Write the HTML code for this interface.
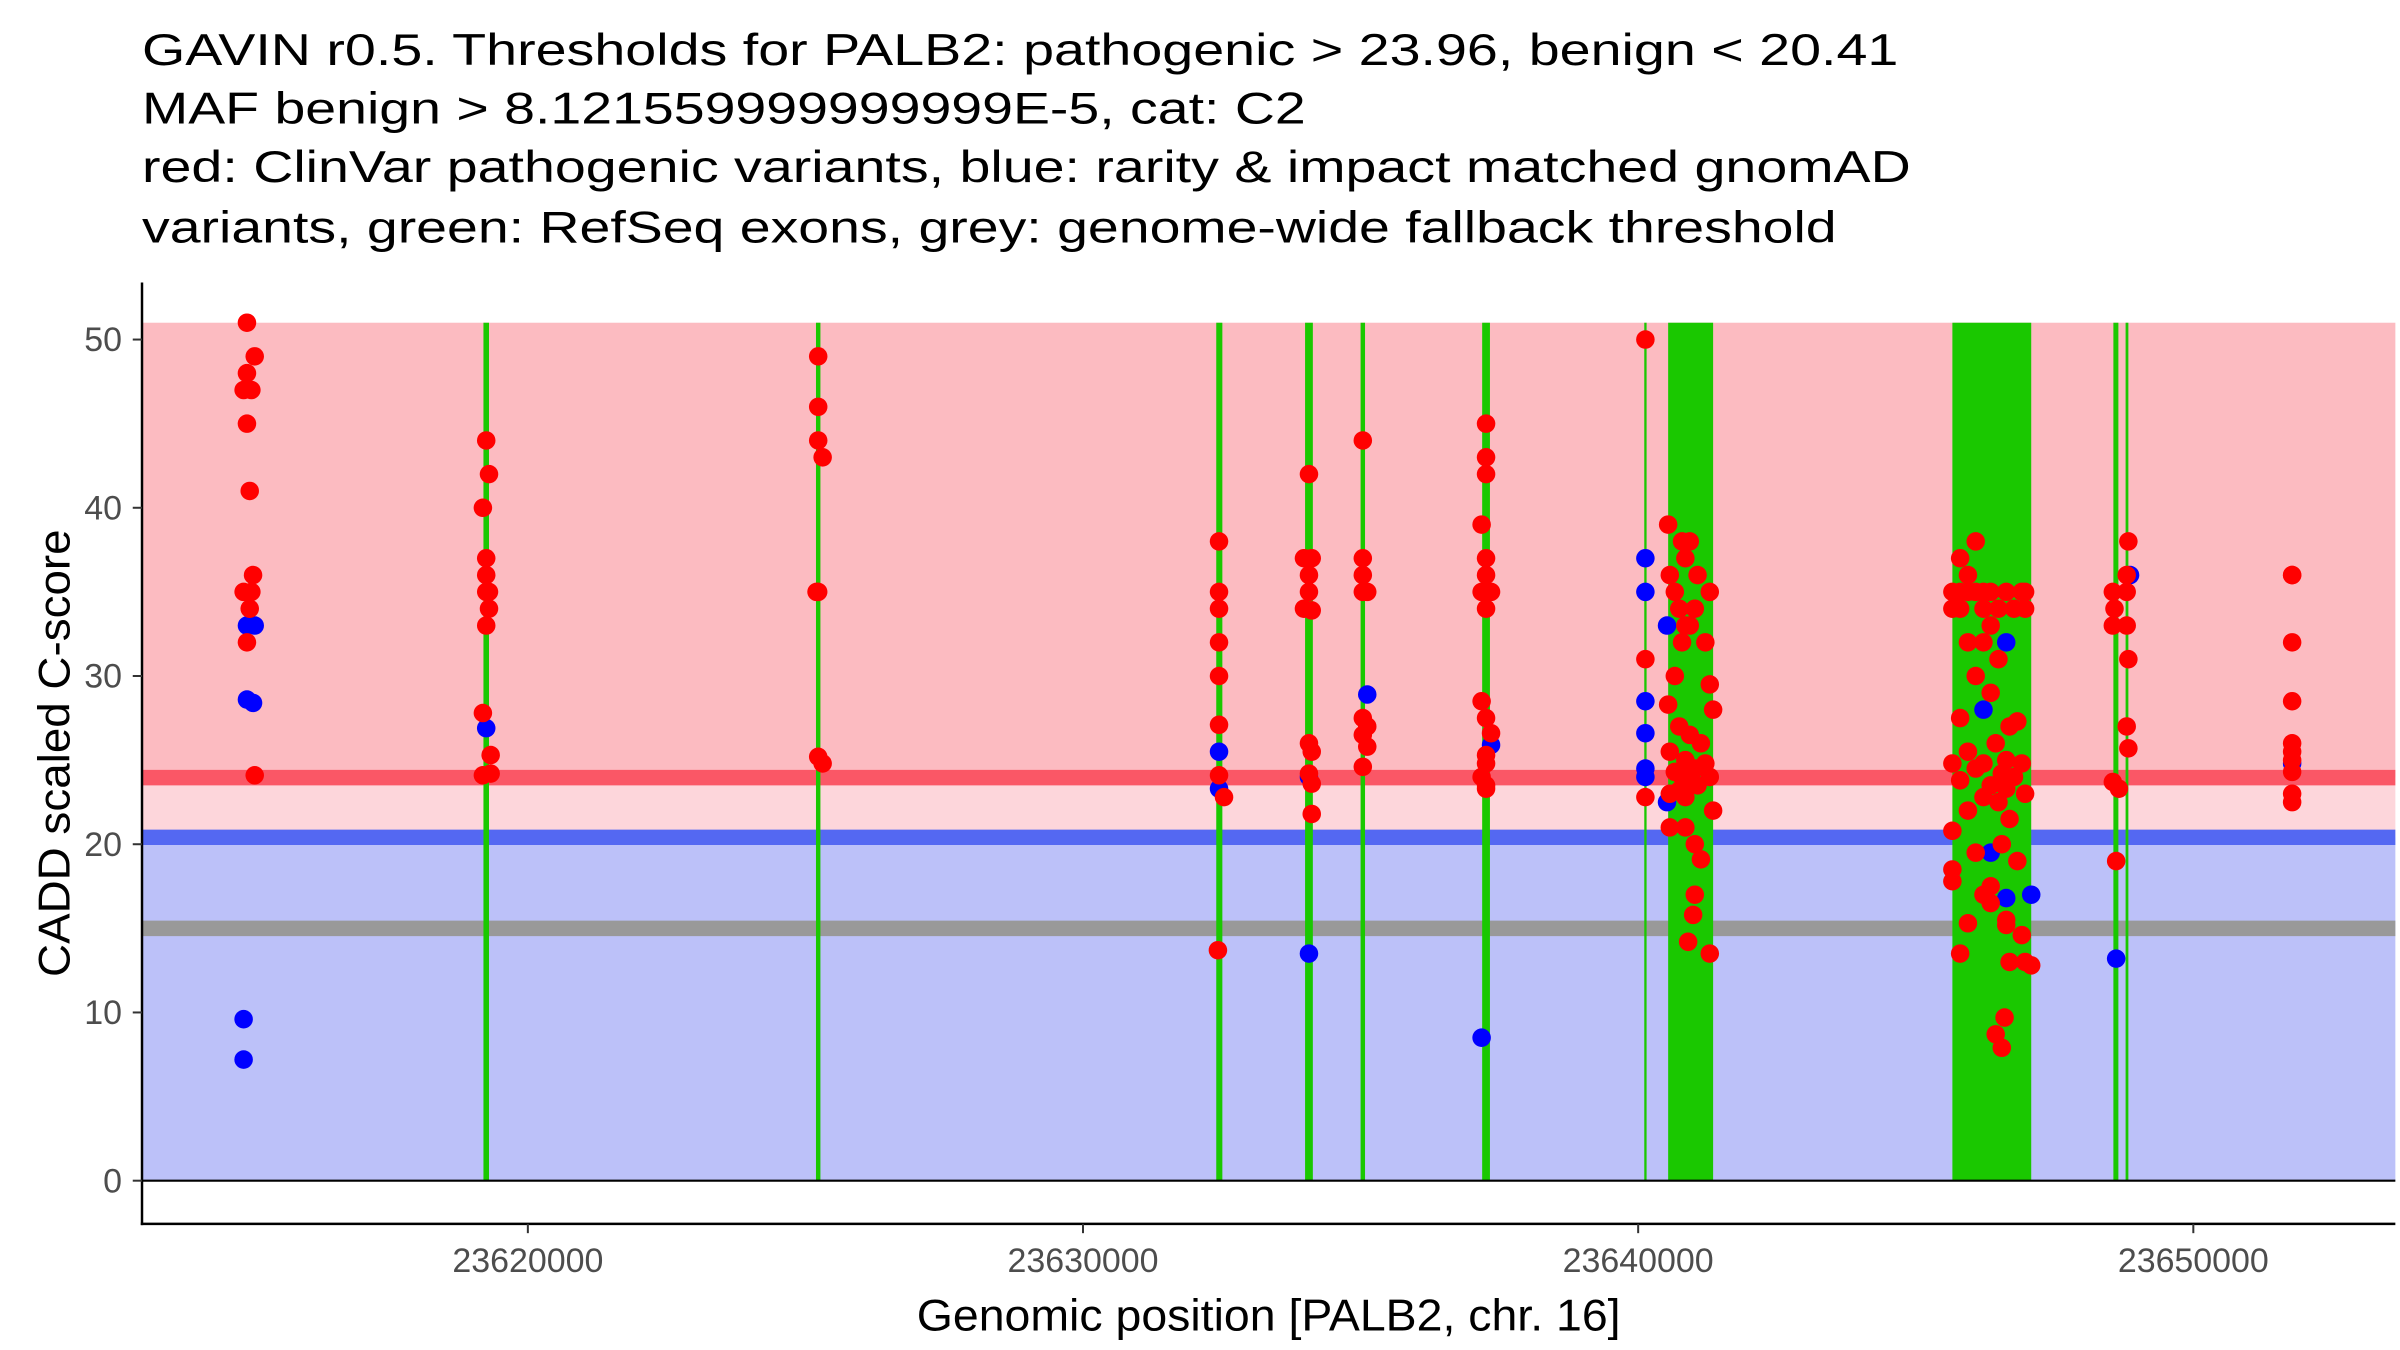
<!DOCTYPE html>
<html><head><meta charset="utf-8"><style>
html,body{margin:0;padding:0;background:#fff;}
svg{display:block;font-family:"Liberation Sans",Arial,sans-serif;}
</style></head><body>
<svg id="chart" width="2400" height="1350" viewBox="0 0 1555 874.7" xmlns="http://www.w3.org/2000/svg">
<g font-size="29" fill="#000">
<text x="92" y="42" textLength="1138" lengthAdjust="spacingAndGlyphs">GAVIN r0.5. Thresholds for PALB2: pathogenic &gt; 23.96, benign &lt; 20.41</text>
<text x="92" y="80" textLength="754" lengthAdjust="spacingAndGlyphs">MAF benign &gt; 8.121559999999999E-5, cat: C2</text>
<text x="92" y="118" textLength="1146" lengthAdjust="spacingAndGlyphs">red: ClinVar pathogenic variants, blue: rarity &amp; impact matched gnomAD</text>
<text x="92" y="157" textLength="1098" lengthAdjust="spacingAndGlyphs">variants, green: RefSeq exons, grey: genome-wide fallback threshold</text>
</g>
<g id="plot"></g>
<text x="822" y="862" font-size="29" text-anchor="middle" fill="#000" textLength="456" lengthAdjust="spacingAndGlyphs">Genomic position [PALB2, chr. 16]</text>
<text transform="translate(45,488) rotate(-90)" font-size="29" text-anchor="middle" fill="#000" textLength="290" lengthAdjust="spacingAndGlyphs">CADD scaled C-score</text>
</svg>
<script>
// thresholds
const pathogenicThreshold = 23.96;
const benignThreshold = 20.41;
const fallbackThreshold = 15;
const bgTop = 51;
// axis ticks
const yTicks = [0,10,20,30,40,50];
const xTicksKb = [23620,23630,23640,23650];
const xTickLabels = ["23620000","23630000","23640000","23650000"];
// RefSeq exons (kb)
const exonStart = [23619.20,23625.19,23632.40,23634.00,23635.00,23637.19,23640.11,23640.54,23645.66,23648.56,23648.78];
const exonEnd   = [23619.30,23625.27,23632.51,23634.14,23635.08,23637.33,23640.15,23641.35,23647.08,23648.65,23648.83];
// gnomAD (blue) variants: [position kb, score]
const blueVariants = [
 [23614.94,33],[23615.08,33],[23614.94,28.6],[23615.05,28.4],[23614.88,9.6],[23614.88,7.2],
 [23619.25,26.9],[23632.45,25.5],[23632.45,23.3],[23634.07,24],[23634.07,13.5],[23635.12,28.9],
 [23637.35,25.9],[23637.18,8.5],
 [23640.13,37],[23640.13,35],[23640.13,28.5],[23640.13,26.6],[23640.13,24.5],[23640.13,24.0],
 [23640.52,33],[23640.52,22.5],
 [23646.63,32],[23646.22,28],[23646.35,19.5],[23647.08,17],[23646.63,16.8],
 [23648.86,36],[23648.61,13.2],[23651.78,24.8]];
// ClinVar pathogenic (red) variants by region: [position kb, score]
const redRegion1 = [[23614.94,51],[23615.08,49],[23614.94,48],[23614.88,47],[23615.02,47],[23614.94,45],[23614.99,41],[23615.05,36],[23614.88,35],[23615.02,35],[23614.99,34],[23614.94,32],[23615.08,24.1]];
const redRegion2 = [[23619.25,44],[23619.30,42],[23619.19,40],[23619.25,37],[23619.25,36],[23619.25,35],[23619.30,35],[23619.30,34],[23619.25,33],[23619.19,27.8],[23619.33,25.3],[23619.33,24.2],[23619.19,24.1]];
const redRegion3 = [[23625.23,49],[23625.23,46],[23625.23,44],[23625.31,43],[23625.23,35],[23625.20,35],[23625.23,25.2],[23625.31,24.8]];
const redRegion4 = [[23632.45,38],[23632.45,35],[23632.45,34],[23632.45,32],[23632.45,30],[23632.45,27.1],[23632.45,24.1],[23632.54,22.8],[23632.43,13.7]];
const redRegion5 = [[23634.07,42],[23633.98,37],[23634.12,37],[23634.07,36],[23634.07,35],[23633.98,34],[23634.12,33.9],[23634.07,26],[23634.12,25.5],[23634.07,24.2],[23634.12,23.6],[23634.12,21.8]];
const redRegion6 = [[23635.04,44],[23635.04,37],[23635.04,36],[23635.04,35],[23635.12,35],[23635.04,27.5],[23635.12,27],[23635.04,26.5],[23635.12,25.8],[23635.04,24.6]];
const redRegion7 = [[23637.26,45],[23637.26,43],[23637.26,42],[23637.18,39],[23637.26,37],[23637.26,36],[23637.18,35],[23637.35,35],[23637.26,34],[23637.18,28.5],[23637.26,27.5],[23637.35,26.6],[23637.26,25.3],[23637.26,24.8],[23637.18,24],[23637.26,23.5],[23637.26,23.3]];
const redRegion8 = [[23640.13,50],[23640.13,31],[23640.13,22.8]];
const redRegion9 = [[23640.54,39],[23640.79,38],[23640.93,38],[23640.85,37],[23640.57,36],[23641.07,36],[23640.66,35],[23641.29,35],[23640.74,34],[23641.02,34],[23640.85,33],[23640.93,33],[23641.21,32],[23640.79,32],[23640.66,30],[23641.29,29.5],[23640.54,28.3],[23641.35,28],[23640.74,27],[23640.93,26.5],[23641.13,26],[23640.57,25.5],[23640.85,25],[23641.21,24.8],[23641.02,24.5],[23640.66,24.3],[23640.79,24],[23641.29,24],[23640.93,23.8],[23641.07,23.5],[23640.74,23.2],[23640.57,23],[23640.85,22.8],[23641.35,22],[23640.57,21],[23640.85,21],[23641.02,20],[23641.13,19.1],[23641.02,17],[23640.99,15.8],[23640.90,14.2],[23641.29,13.5]];
const redRegion10 = [[23646.08,38],[23645.80,37],[23645.94,36],[23645.66,35],[23645.80,35],[23645.94,35],[23646.08,35],[23646.22,35],[23646.35,35],[23646.63,35],[23646.91,35],[23646.97,35],[23645.66,34],[23645.80,34],[23646.22,34],[23646.49,34],[23646.77,34],[23646.97,34],[23646.35,33],[23646.22,32],[23645.94,32],[23646.49,31],[23646.08,30],[23646.35,29],[23645.80,27.5],[23646.83,27.3],[23646.69,27],[23646.44,26],[23645.94,25.5],[23646.63,25],[23645.66,24.8],[23646.22,24.8],[23646.91,24.8],[23646.08,24.5],[23646.55,24.2],[23646.77,24],[23645.80,23.8],[23646.35,23.5],[23646.63,23.3],[23646.97,23],[23646.22,22.8],[23646.49,22.5],[23645.94,22],[23646.69,21.5],[23645.66,20.8],[23646.55,20],[23646.08,19.5],[23646.83,19],[23645.66,18.5],[23646.35,17.5],[23645.66,17.8],[23646.22,17],[23646.35,16.5],[23646.63,15.5],[23645.94,15.3],[23646.63,15.2],[23646.91,14.6],[23645.80,13.5],[23646.69,13],[23646.97,13],[23647.08,12.8],[23646.60,9.7],[23646.44,8.7],[23646.55,7.9]];
const redRegion11 = [[23648.83,38],[23648.80,36],[23648.55,35],[23648.80,35],[23648.58,34],[23648.55,33],[23648.80,33],[23648.83,31],[23648.80,27],[23648.83,25.7],[23648.55,23.7],[23648.66,23.3],[23648.61,19]];
const redRegion12 = [[23651.78,36],[23651.78,36],[23651.78,32],[23651.78,28.5],[23651.78,26],[23651.78,25.5],[23651.78,25],[23651.78,24.3],[23651.78,23],[23651.78,22.5]];
const redRegions = [redRegion1,redRegion2,redRegion3,redRegion4,redRegion5,redRegion6,redRegion7,redRegion8,redRegion9,redRegion10,redRegion11,redRegion12];

const NS = "http://www.w3.org/2000/svg";
const plot = document.getElementById("plot");
const X0 = 92, X1 = 1552, YAX = 793;
function xs(kb){ return 342 + (kb - 23620) * 35.97; }
function ys(v){ return 765 - v * 10.9; }
function mk(tag, attrs, parent){
  const e = document.createElementNS(NS, tag);
  for (const k in attrs) e.setAttribute(k, attrs[k]);
  (parent || plot).appendChild(e);
  return e;
}
let e;
e = mk("rect",{x:X0,y:ys(bgTop),width:X1-X0,height:ys(pathogenicThreshold)-ys(bgTop),fill:"#FCBBC1"});


e = mk("rect",{x:X0,y:ys(pathogenicThreshold),width:X1-X0,height:ys(benignThreshold)-ys(pathogenicThreshold),fill:"#FDD6DB"});


e = mk("rect",{x:X0,y:ys(benignThreshold),width:X1-X0,height:ys(0)-ys(benignThreshold),fill:"#BCC1F9"});


e = mk("line",{x1:X0,x2:X1,y1:ys(pathogenicThreshold),y2:ys(pathogenicThreshold),stroke:"#FA5766","stroke-width":10});


e = mk("line",{x1:X0,x2:X1,y1:ys(benignThreshold),y2:ys(benignThreshold),stroke:"#5468F2","stroke-width":10});


e = mk("line",{x1:X0,x2:X1,y1:ys(fallbackThreshold),y2:ys(fallbackThreshold),stroke:"#999999","stroke-width":10});


for (let i=0;i<exonStart.length;i++){
  const a = xs(exonStart[i]), b = xs(exonEnd[i]);
  e = mk("rect",{x:a,y:ys(bgTop),width:Math.max(1.5,b-a),height:ys(0)-ys(bgTop),fill:"#1AC800"});
  
  
}
e = mk("line",{x1:X0,x2:X1,y1:ys(0),y2:ys(0),stroke:"#000","stroke-width":1.3});


for (const p of blueVariants){
  e = mk("circle",{cx:xs(p[0]),cy:ys(p[1]),r:6,fill:"#0000FF"});
  
  
}
for (const region of redRegions){
  for (const p of region){
    e = mk("circle",{cx:xs(p[0]),cy:ys(p[1]),r:6,fill:"#FF0000"});
    
    
  }
}
// axes
e = mk("line",{x1:X0,x2:X0,y1:183,y2:YAX+0.8,stroke:"#000","stroke-width":1.6});


e = mk("line",{x1:X0-0.8,x2:X1,y1:YAX,y2:YAX,stroke:"#000","stroke-width":1.6});


for (const t of yTicks){
  e = mk("line",{x1:X0-6,x2:X0,y1:ys(t),y2:ys(t),stroke:"#333","stroke-width":1.3});
  
  
  e = mk("text",{x:X0-13,y:ys(t)+7.5,"text-anchor":"end","font-size":22,fill:"#4D4D4D"});
  e.textContent = t;
  
  
}
for (let i=0;i<xTicksKb.length;i++){
  const x = xs(xTicksKb[i]);
  e = mk("line",{x1:x,x2:x,y1:YAX,y2:YAX+6,stroke:"#333","stroke-width":1.3});
  
  
  e = mk("text",{x:x,y:YAX+31,"text-anchor":"middle","font-size":22,fill:"#4D4D4D"});
  e.textContent = xTickLabels[i];
  
  
}
</script>
</body></html>
